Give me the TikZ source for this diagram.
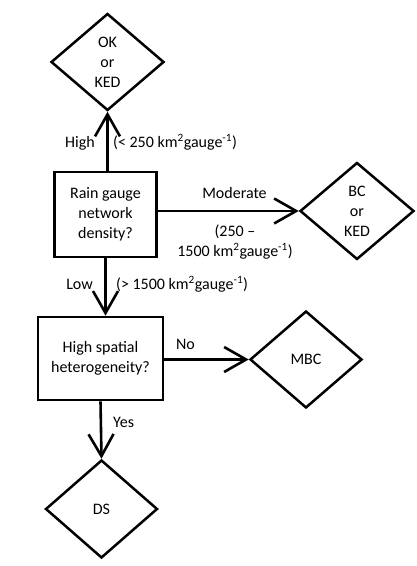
\documentclass[tikz,border=0pt]{standalone}
\usepackage{fontspec}
\setmainfont{Carlito}
\usetikzlibrary{shapes.geometric, arrows.meta, positioning}

\begin{document}
\begin{tikzpicture}[x=10pt, y=10pt,
    txt/.style={font=\fontsize{16}{20}\selectfont, align=center},
    question/.style={txt, draw, line width=2.6pt, inner sep=0pt},
    method/.style={txt, diamond, draw, line width=2.5pt, inner sep=0pt,
                   minimum width=113pt, minimum height=97pt},
    flow/.style={-{Straight Barb[length=22pt, width=25pt]}, line width=2.6pt},
    lbl/.style={font=\fontsize{16}{20}\selectfont, inner sep=0pt}]
    \useasboundingbox (0, 0) rectangle (41.6, 56.6);

    % Questions
    \node[question, minimum width=102pt, minimum height=85pt] (density) at (10.55, 35.15) {Rain gauge\\network\\density?};
    \node[question, minimum width=125pt, minimum height=83pt] (hetero) at (10.05, 20.75) {High spatial\\heterogeneity?};

    % Methods
    \node[method] (okked) at (10.75, 50.4) {OK\\or\\KED};
    \node[method, minimum width=114pt] (bcked) at (35.7, 35.5) {BC\\or\\KED};
    \node[method, minimum width=112pt] (mbc) at (30.6, 20.65) {MBC};
    \node[method, minimum width=112pt, minimum height=98pt] (ds) at (10.15, 5.7) {DS};

    % Connectors
    \draw[flow] (okked.south |- density.north) -- (okked.south);
    \draw[flow] (density.east |- bcked.west) -- (bcked.west);
    \draw[flow] (density.south) -- (density.south |- hetero.north);
    \draw[flow] (hetero.east |- mbc.west) -- (mbc.west);
    \draw[flow] (hetero.south) -- (ds.north);

    % High density
    \node[lbl, anchor=base east] (high) at (9.5, 41.8) {High};
    \node[lbl, anchor=base west] (highrange) at (11.3, 41.8) {(< 250 km\textsuperscript{2}gauge\textsuperscript{-1})};

    % Moderate density
    \node[lbl, anchor=base] (moderate) at (23.45, 36.7) {Moderate};
    \node[lbl, align=center] (moderaterange) at (23.5, 32.4) {(250 --\\1500 km\textsuperscript{2}gauge\textsuperscript{-1})};

    % Low density
    \node[lbl, anchor=base east] (low) at (9.3, 27.6) {Low};
    \node[lbl, anchor=base west] (lowrange) at (11.6, 27.6) {(> 1500 km\textsuperscript{2}gauge\textsuperscript{-1})};

    % Heterogeneity answers
    \node[lbl, anchor=base] (no) at (18.55, 21.6) {No};
    \node[lbl, anchor=base west] (yes) at (11.3, 13.8) {Yes};
\end{tikzpicture}
\end{document}
